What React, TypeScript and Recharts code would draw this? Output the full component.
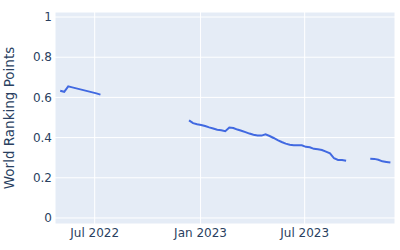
import React from "react";
import {
  CartesianGrid,
  Label,
  Line,
  LineChart,
  XAxis,
  YAxis,
} from "recharts";

// weekly ranking dates (a null entry marks a gap in the line)
const weeks = [
  "2022-05-02", "2022-05-09", "2022-05-16", "2022-05-23", "2022-05-30",
  "2022-06-06", "2022-06-13", "2022-06-20", "2022-06-27", "2022-07-04",
  "2022-07-11",
  "2022-10-03",
  "2022-12-12", "2022-12-19", "2022-12-26", "2023-01-02", "2023-01-09",
  "2023-01-16", "2023-01-23", "2023-01-30", "2023-02-06", "2023-02-13",
  "2023-02-20", "2023-02-27", "2023-03-06", "2023-03-13", "2023-03-20",
  "2023-03-27", "2023-04-03", "2023-04-10", "2023-04-17", "2023-04-24",
  "2023-05-01", "2023-05-08", "2023-05-15", "2023-05-22", "2023-05-29",
  "2023-06-05", "2023-06-12", "2023-06-19", "2023-06-26", "2023-07-03",
  "2023-07-10", "2023-07-17", "2023-07-24", "2023-07-31", "2023-08-07",
  "2023-08-14", "2023-08-21", "2023-08-28", "2023-09-04", "2023-09-11",
  "2023-10-01",
  "2023-10-23", "2023-10-30", "2023-11-06", "2023-11-13", "2023-11-20",
  "2023-11-27",
];

const points: (number | null)[] = [
  0.633, 0.628, 0.655, 0.65, 0.645, 0.64, 0.635, 0.63, 0.625, 0.62, 0.614,
  null,
  0.486, 0.472, 0.466, 0.463, 0.458, 0.451, 0.445, 0.439, 0.437, 0.432,
  0.45, 0.448, 0.44, 0.434, 0.427, 0.42, 0.414, 0.41, 0.41, 0.416,
  0.408, 0.398, 0.387, 0.378, 0.37, 0.364, 0.362, 0.362, 0.362, 0.354,
  0.352, 0.344, 0.342, 0.338, 0.33, 0.322, 0.297, 0.289, 0.289, 0.285,
  null,
  0.295, 0.294, 0.29, 0.282, 0.279, 0.276,
];

const xTickDates = ["2022-07-01", "2023-01-01", "2023-07-01"];
const xTickLabels = ["Jul 2022", "Jan 2023", "Jul 2023"];
const yTicks = [0, 0.2, 0.4, 0.6, 0.8, 1];

const data = weeks.map((d, i) => ({ t: Date.parse(d), v: points[i] }));
const xTicks = xTickDates.map((d) => Date.parse(d));
const xDomain = [Date.parse("2022-04-23"), Date.parse("2023-12-05")];

const textColor = "#2a3f5f";
const font = "'DejaVu Sans', sans-serif";

const renderYLabel = () => (
  <text
    x={14}
    y={118}
    transform="rotate(-90 14 118)"
    textAnchor="middle"
    fill={textColor}
    fontSize={13.5}
    fontFamily={font}
  >
    World Ranking Points
  </text>
);

export default function App() {
  return (
    <div style={{ position: "absolute", left: 0, top: 0, width: 400, height: 250, background: "#fff" }}>
      <LineChart
        width={400}
        height={250}
        data={data}
        margin={{ top: 12, right: 5, bottom: 6, left: 0 }}
      >
        <CartesianGrid stroke="#ffffff" fill="#E5ECF6" fillOpacity={1} strokeWidth={1} />
        <XAxis
          dataKey="t"
          type="number"
          scale="time"
          domain={xDomain}
          ticks={xTicks}
          allowDataOverflow
          tickFormatter={(v) => xTickLabels[xTicks.indexOf(v)] ?? ""}
          axisLine={false}
          tickLine={false}
          tickSize={0}
          tickMargin={4}
          height={20}
          tick={{ fill: textColor, fontSize: 12, fontFamily: font }}
        />
        <YAxis
          type="number"
          domain={[-0.03, 1.025]}
          ticks={yTicks}
          allowDataOverflow
          tickFormatter={(v) => `${v}`}
          axisLine={false}
          tickLine={false}
          tickSize={0}
          tickMargin={3}
          width={55}
          tick={{ fill: textColor, fontSize: 12, fontFamily: font }}
        >
          <Label content={renderYLabel} />
        </YAxis>
        <Line
          type="linear"
          dataKey="v"
          stroke="#4169E1"
          strokeWidth={2}
          dot={false}
          connectNulls={false}
          isAnimationActive={false}
        />
      </LineChart>
    </div>
  );
}
